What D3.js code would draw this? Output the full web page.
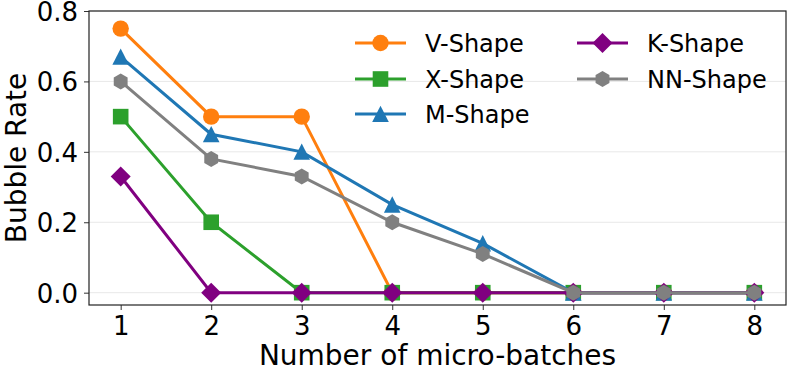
<!DOCTYPE html>
<html>
<head>
<meta charset="utf-8">
<script src="https://cdn.jsdelivr.net/npm/d3@7"></script>
<style>
  body { margin: 0; background: white; }
  text { font-family: "DejaVu Sans", sans-serif; fill: black; }
</style>
</head>
<body>
<div id="viz"></div>
<script>
const microBatches = [1, 2, 3, 4, 5, 6, 7, 8];
const yTicks = [0.0, 0.2, 0.4, 0.6, 0.8];

const vShape = [0.75, 0.5, 0.5, 0, 0, 0, 0, 0];
const xShape = [0.5, 0.2, 0, 0, 0, 0, 0, 0];
const mShape = [0.67, 0.45, 0.4, 0.25, 0.14, 0, 0, 0];
const kShape = [0.33, 0, 0, 0, 0, 0, 0, 0];
const nnShape = [0.6, 0.38, 0.33, 0.2, 0.11, 0, 0, 0];

const seriesNames = ["V-Shape", "X-Shape", "M-Shape", "K-Shape", "NN-Shape"];
const seriesValues = [vShape, xShape, mShape, kShape, nnShape];

const styles = {
    "V-Shape": { color: "#ff7f0e", marker: "circle" },
    "X-Shape": { color: "#2ca02c", marker: "square" },
    "M-Shape": { color: "#1f77b4", marker: "triangle" },
    "K-Shape": { color: "#800080", marker: "diamond" },
    "NN-Shape": { color: "#808080", marker: "hex" }
};

function polygon(pts) {
    const p = d3.path();
    pts.forEach((pt, i) => i === 0 ? p.moveTo(pt[0], pt[1]) : p.lineTo(pt[0], pt[1]));
    p.closePath();
    return p.toString();
}

function markerPath(kind) {
    if (kind === "circle") return d3.symbol().type(d3.symbolCircle).size(Math.PI * 8.2 * 8.2)();
    if (kind === "square") return polygon([[-7.8, -7.8], [7.8, -7.8], [7.8, 7.8], [-7.8, 7.8]]);
    if (kind === "triangle") return polygon([[0, -8.3], [8.3, 8], [-8.3, 8]]);
    if (kind === "diamond") return polygon([[0, -10], [10, 0], [0, 10], [-10, 0]]);
    const pts = [];
    for (let i = 0; i < 6; i++) {
        const a = -Math.PI / 2 + i * Math.PI / 3;
        pts.push([8 * Math.cos(a), 8 * Math.sin(a)]);
    }
    return polygon(pts);
}

const width = 789, height = 371;
const margin = { top: 11, right: 3, bottom: 66, left: 89 };

const svg = d3.select("#viz").append("svg")
    .attr("width", width)
    .attr("height", height);

const x = d3.scaleLinear()
    .domain([0.65, 8.35])
    .range([margin.left, width - margin.right]);

const y = d3.scaleLinear()
    .domain([-0.035, 0.8])
    .range([height - margin.bottom, margin.top]);

// grid
svg.append("g")
    .selectAll("line")
    .data(yTicks)
    .enter().append("line")
    .attr("x1", margin.left)
    .attr("x2", width - margin.right)
    .attr("y1", d => y(d))
    .attr("y2", d => y(d))
    .attr("stroke", "#e8e8e8")
    .attr("stroke-width", 1);

// axes
const xAxis = svg.append("g")
    .attr("transform", `translate(0,${height - margin.bottom})`)
    .call(d3.axisBottom(x).tickValues(microBatches).tickFormat(d3.format("d")).tickSize(5).tickPadding(7));
const yAxis = svg.append("g")
    .attr("transform", `translate(${margin.left},0)`)
    .call(d3.axisLeft(y).tickValues(yTicks).tickFormat(d3.format(".1f")).tickSize(5).tickPadding(6));

[xAxis, yAxis].forEach(a => {
    a.select(".domain").remove();
    a.selectAll("text").style("font-size", "26px").attr("fill", "black");
    a.selectAll("line").attr("stroke", "#333");
});
yAxis.selectAll("text").attr("dy", "0.36em");

// frame
svg.append("rect")
    .attr("x", margin.left)
    .attr("y", margin.top)
    .attr("width", width - margin.right - margin.left)
    .attr("height", height - margin.bottom - margin.top)
    .attr("fill", "none")
    .attr("stroke", "#222")
    .attr("stroke-width", 1.2);

// axis labels
svg.append("text")
    .attr("x", (margin.left + width - margin.right) / 2)
    .attr("y", 365)
    .attr("text-anchor", "middle")
    .style("font-size", "28px")
    .text("Number of micro-batches");

svg.append("text")
    .attr("transform", `translate(26,${(margin.top + height - margin.bottom) / 2}) rotate(-90)`)
    .attr("text-anchor", "middle")
    .style("font-size", "28px")
    .text("Bubble Rate");

// lines
const line = d3.line()
    .x((d, i) => x(microBatches[i]))
    .y(d => y(d));

seriesNames.forEach((name, si) => {
    const st = styles[name];
    const vals = seriesValues[si];
    const g = svg.append("g");
    g.append("path")
        .attr("d", line(vals))
        .attr("fill", "none")
        .attr("stroke", st.color)
        .attr("stroke-width", 3);
    g.selectAll("path.mk")
        .data(vals)
        .enter().append("path")
        .attr("class", "mk")
        .attr("transform", (d, i) => `translate(${x(microBatches[i])},${y(d)})`)
        .attr("d", markerPath(st.marker))
        .attr("fill", st.color);
});

// legend
const legendPos = [
    { x: 355, y: 43 }, { x: 355, y: 79 }, { x: 355, y: 114 },
    { x: 577, y: 43 }, { x: 577, y: 79 }
];
seriesNames.forEach((name, si) => {
    const st = styles[name];
    const p = legendPos[si];
    const g = svg.append("g").attr("transform", `translate(${p.x},${p.y})`);
    g.append("line")
        .attr("x1", 0).attr("x2", 51)
        .attr("stroke", st.color)
        .attr("stroke-width", 3);
    g.append("path")
        .attr("transform", "translate(25.5,0)")
        .attr("d", markerPath(st.marker))
        .attr("fill", st.color);
    g.append("text")
        .attr("x", 70)
        .attr("dy", "0.36em")
        .style("font-size", "24px")
        .text(name);
});
</script>
</body>
</html>
